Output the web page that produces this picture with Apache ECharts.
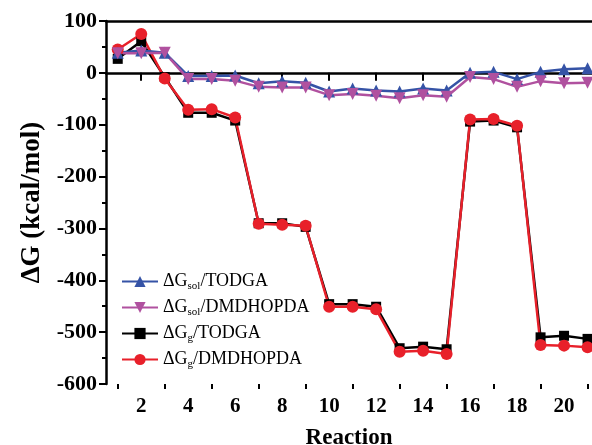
<!DOCTYPE html>
<html>
<head>
<meta charset="utf-8">
<script src="https://cdn.jsdelivr.net/npm/echarts@6/dist/echarts.min.js"></script>
<style>
  html, body { margin: 0; padding: 0; background: #fff; }
  #chart { width: 592px; height: 445px; }
</style>
</head>
<body>
<div id="chart"></div>
<script>
// reaction numbers
var reactions = [1, 2, 3, 4, 5, 6, 7, 8, 9, 10, 11, 12, 13, 14, 15, 16, 17, 18, 19, 20, 21];
// ΔG values (kcal/mol)
var solTodga    = [39, 43, 39, -6, -6, -5, -20, -16, -19, -36, -30, -34, -36, -30, -34, 0, 2, -12, 2, 7, 9];
var solDmdhopda = [38, 38, 39, -12, -12, -15, -27, -28, -28, -43, -41, -44, -49, -43, -46, -8, -12, -27, -16, -20, -19];
var gTodga      = [27, 61, -8, -77, -77, -92, -290, -290, -297, -446, -446, -451, -531, -528, -533, -94, -92, -105, -510, -507, -513];
var gDmdhopda   = [45, 75, -11, -71, -70, -86, -291, -293, -295, -451, -451, -456, -538, -536, -542, -90, -89, -102, -525, -526, -529];
var yTicks = [-600, -500, -400, -300, -200, -100, 0, 100];
var xMajor = [2, 4, 6, 8, 10, 12, 14, 16, 18, 20];
var xMinor = [1, 3, 5, 7, 9, 11, 13, 15, 17, 19, 21];

var serif = '"Liberation Serif", "Times New Roman", serif';

function pairs(vals) {
  return reactions.map(function (r, i) { return [r, vals[i]]; });
}

var legendText = {
  'ΔGsol/TODGA': '{t|ΔG}{s|sol}{t|/TODGA}',
  'ΔGsol/DMDHOPDA': '{t|ΔG}{s|sol}{t|/DMDHOPDA}',
  'ΔGg/TODGA': '{t|ΔG}{s|g}{t|/TODGA}',
  'ΔGg/DMDHOPDA': '{t|ΔG}{s|g}{t|/DMDHOPDA}'
};

var chart = echarts.init(document.getElementById('chart'));

var option = {
  animation: false,
  backgroundColor: '#fff',
  grid: { left: 106, right: 0, top: 21, bottom: 61, outerBoundsMode: 'none', containLabel: false },
  legend: {
    orient: 'vertical',
    left: 116,
    top: 266,
    itemWidth: 36,
    itemHeight: 14,
    itemGap: 5,
    data: ['ΔGsol/TODGA', 'ΔGsol/DMDHOPDA', 'ΔGg/TODGA', 'ΔGg/DMDHOPDA'],
    formatter: function (name) { return legendText[name]; },
    textStyle: {
      rich: {
        t: { fontFamily: serif, fontSize: 18, color: '#000', lineHeight: 20 },
        s: { fontFamily: serif, fontSize: 11, color: '#000', lineHeight: 20, padding: [10, 0, 0, 0] }
      }
    }
  },
  xAxis: [
    {
      type: 'value',
      min: 0.5,
      max: 21.19,
      position: 'bottom',
      name: 'Reaction',
      nameLocation: 'middle',
      nameGap: 43,
      nameTextStyle: { fontFamily: serif, fontWeight: 'bold', fontSize: 23, color: '#000' },
      axisLine: { show: true, lineStyle: { color: '#000', width: 2.5 } },
      axisTick: { show: true, customValues: xMajor, length: 8, lineStyle: { color: '#000', width: 2 } },
      axisLabel: { customValues: xMajor, margin: 12, fontFamily: serif, fontWeight: 'bold', fontSize: 21, color: '#000' },
      splitLine: { show: false }
    },
    {
      type: 'value',
      min: 0.5,
      max: 21.19,
      position: 'bottom',
      axisLine: { show: false },
      axisTick: { show: true, customValues: xMinor, length: 5, lineStyle: { color: '#000', width: 2 } },
      axisLabel: { show: false },
      splitLine: { show: false }
    },
    {
      type: 'value',
      min: 0.5,
      max: 21.19,
      position: 'top',
      axisLine: { show: true, lineStyle: { color: '#000', width: 2.5 } },
      axisTick: { show: false },
      axisLabel: { show: false },
      splitLine: { show: false }
    }
  ],
  yAxis: {
    type: 'value',
    min: -600,
    max: 100,
    interval: 100,
    name: 'ΔG (kcal/mol)',
    nameLocation: 'middle',
    nameGap: 56,
    nameTextStyle: { fontFamily: serif, fontWeight: 'bold', fontSize: 27, color: '#000' },
    axisLine: { show: true, lineStyle: { color: '#000', width: 2.5 } },
    axisTick: { show: true, length: 7, lineStyle: { color: '#000', width: 2 } },
    minorTick: { show: true, splitNumber: 2, length: 4, lineStyle: { color: '#000', width: 2 } },
    axisLabel: {
      margin: 9,
      fontFamily: serif, fontWeight: 'bold', fontSize: 22, color: '#000',
      customValues: yTicks
    },
    splitLine: { show: false }
  },
  series: [
    {
      name: 'ΔGg/TODGA', type: 'line', data: pairs(gTodga),
      symbol: 'rect', symbolSize: 10,
      itemStyle: { color: '#000' }, lineStyle: { color: '#000', width: 2.5 }
    },
    {
      name: 'ΔGg/DMDHOPDA', type: 'line', data: pairs(gDmdhopda),
      symbol: 'circle', symbolSize: 12,
      itemStyle: { color: '#e8202a' }, lineStyle: { color: '#e8202a', width: 2.5 }
    },
    {
      name: 'ΔGsol/TODGA', type: 'line', data: pairs(solTodga),
      symbol: 'triangle', symbolSize: 12,
      itemStyle: { color: '#3553a6' }, lineStyle: { color: '#3553a6', width: 2.5 }
    },
    {
      name: 'ΔGsol/DMDHOPDA', type: 'line', data: pairs(solDmdhopda),
      symbol: 'triangle', symbolRotate: 180, symbolSize: 12,
      itemStyle: { color: '#b0519f' }, lineStyle: { color: '#b0519f', width: 2.5 }
    }
  ]
};

chart.setOption(option);
</script>
</body>
</html>
